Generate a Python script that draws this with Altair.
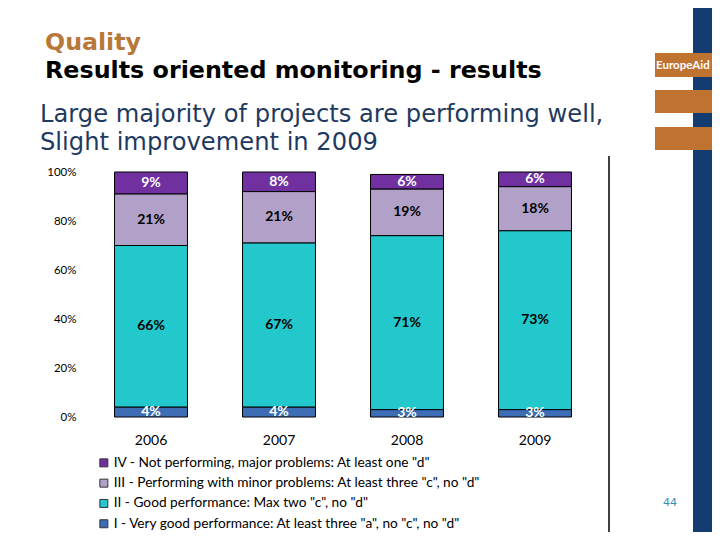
import altair as alt
import pandas as pd

# ---- data ----
years = ["2006", "2007", "2008", "2009"]
categories = [
    'IV - Not performing, major problems: At least one "d"',
    'III - Performing with minor problems: At least three "c", no "d"',
    'II - Good performance: Max two "c", no "d"',
    'I - Very good performance: At least three "a", no "c", no "d"',
]
vals_IV = [9, 8, 6, 6]
vals_III = [21, 21, 19, 18]
vals_II = [66, 67, 71, 73]
vals_I = [4, 4, 3, 3]
y_ticks = [0, 20, 40, 60, 80, 100]

series = [vals_IV, vals_III, vals_II, vals_I]
rows = []
for k, (cat, vals) in enumerate(zip(categories, series)):
    for yr, v in zip(years, vals):
        rows.append({"year": yr, "category": cat, "value": v, "order": 3 - k})
df = pd.DataFrame(rows)

# ---- styles ----
seg_colors = ["#7030a0", "#b1a0c7", "#23c8cc", "#3c6db5"]
NAVY = "#143c70"
ORANGE = "#c07230"
BODY_FONT = "Lato"
SLIDE_FONT = "DejaVu Sans"

base = alt.Chart(df).transform_stack(
    stack="value", groupby=["year"], as_=["v0", "v1"],
    sort=[alt.SortField("order", order="ascending")],
).transform_calculate(
    mid="(datum.v0 + datum.v1) / 2",
    label="datum.value + '%'",
)

x_enc = alt.X(
    "year:N",
    scale=alt.Scale(domain=years, paddingInner=0.43, paddingOuter=0.215),
    axis=alt.Axis(title=None, labelAngle=0, ticks=False, domain=False,
                  labelFont=BODY_FONT, labelFontSize=14, labelColor="black",
                  labelPadding=16),
)

bars = base.mark_bar(stroke="black", strokeWidth=1).encode(
    x=x_enc,
    y=alt.Y("v0:Q", scale=alt.Scale(domain=[0, 100]),
            axis=alt.Axis(title=None, values=y_ticks, labelExpr="datum.value + '%'",
                          ticks=False, domain=False, grid=False,
                          labelFont=BODY_FONT, labelFontSize=11.5, labelColor="black",
                          labelPadding=11)),
    y2="v1:Q",
    color=alt.Color("category:N",
                    scale=alt.Scale(domain=categories, range=seg_colors),
                    legend=alt.Legend(title=None, orient="none", legendX=10, legendY=284,
                                      symbolType="square", symbolSize=64,
                                      symbolStrokeColor="#333", symbolStrokeWidth=1,
                                      labelFont=BODY_FONT, labelFontSize=13.7,
                                      labelColor="black", labelLimit=600,
                                      rowPadding=5.3, labelOffset=3, padding=0)),
)

labels = base.mark_text(font=BODY_FONT, fontWeight="bold", fontSize=14,
                        baseline="middle").encode(
    x=alt.X("year:N"),
    y=alt.Y("mid:Q"),
    text="label:N",
    fill=alt.condition("datum.order == 1 || datum.order == 2",
                       alt.value("black"), alt.value("white")),
)

one = pd.DataFrame({"k": [0]})

def rect(x1, x2, y1, y2, color):
    return alt.Chart(one).mark_rect(color=color).encode(
        x=alt.value(x1), x2=alt.value(x2), y=alt.value(y1), y2=alt.value(y2))

def txt(s, x, y, size, color, font=SLIDE_FONT, weight="normal", align="left"):
    return alt.Chart(one).mark_text(text=s, font=font, fontSize=size, color=color,
                                    fontWeight=weight, align=align,
                                    baseline="alphabetic").encode(
        x=alt.value(x), y=alt.value(y))

def rule(x1, x2, y1, y2):
    return alt.Chart(one).mark_rule(color="black", strokeWidth=1.5).encode(
        x=alt.value(x1), x2=alt.value(x2), y=alt.value(y1), y2=alt.value(y2))

deco = [
    rect(606, 640, -180, 380, NAVY),
    rect(568, 640, -119, -95, ORANGE),
    rect(568, 640, -82, -59, ORANGE),
    rect(568, 640, -45, -22, ORANGE),
    txt("EuropeAid", 569, -103, 11.5, "white", font=BODY_FONT, weight="bold"),
    txt("Quality", -42, -122, 23.7, "#b8783a", weight="bold"),
    txt("Results oriented monitoring - results", -42, -94, 23.8, "black", weight="bold"),
    txt("Large majority of projects are performing well,", -47, -50, 24.2, "#1f3a60"),
    txt("Slight improvement in 2009", -47, -22, 24.2, "#1f3a60"),
    txt("44", 583, 334, 11, "#3a8fb5", align="center"),
    rule(522, 522, -16, 364),
    rule(-51, 522, 364, 364),
]

chart = alt.layer(*deco[:5], bars, labels, *deco[5:]).properties(
    width=512, height=245,
    autosize=alt.AutoSizeParams(type="none"),
    padding={"left": 79, "top": 164, "right": 113, "bottom": 115},
    background="white",
).configure_view(stroke=None)

chart.save("out.html", embed_options={"renderer": "svg", "actions": False})
